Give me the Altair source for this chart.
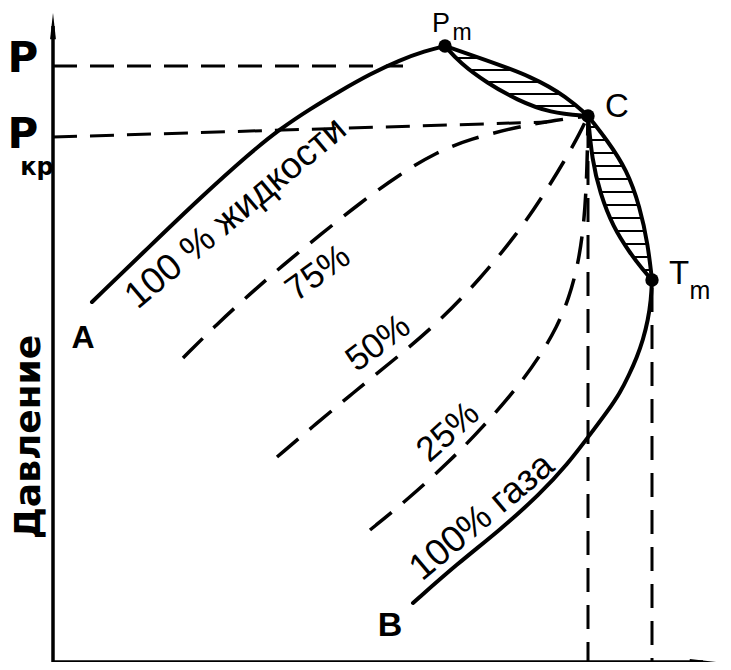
import altair as alt
import pandas as pd
import numpy as np

# Phase diagram (temperature T along x, pressure P along y), arbitrary units,
# origin at the corner of the axes.
liq_T = [39, 97, 147, 197, 227, 257, 287, 317, 347, 372, 392]     # A -> Pm (100% жидкости)
liq_P = [360, 416, 464, 509, 533, 553, 571, 588, 602, 611, 616]

upO_T = [392, 430, 480, 514, 535]                                  # Pm -> C, outer
upO_P = [616, 603, 585, 565, 546]
upI_T = [392, 407, 434, 464, 497, 535]                             # Pm -> C, inner
upI_P = [616, 599, 579, 562, 549, 546]

rtO_T = [535, 554, 574, 587, 595, 599]                             # C -> Tm, outer
rtO_P = [546, 522, 492, 455, 417, 382]
rtI_T = [535, 539, 547, 560, 577, 590, 599]                        # C -> Tm, inner
rtI_P = [546, 502, 469, 435, 409, 392, 382]

gas_T = [599, 598, 595, 590, 584, 576, 567, 554, 539, 514, 487, 447, 404, 360]   # Tm -> B (100% газа)
gas_P = [382, 362, 342, 322, 305, 287, 269, 250, 230, 197, 168, 132, 98, 59]

q75_T = [130, 164, 197, 230, 267, 307, 347, 384, 417, 464, 497, 535]
q75_P = [304, 338, 368, 397, 427, 459, 488, 510, 523, 535, 541, 546]
q50_T = [224, 264, 300, 337, 384, 427, 464, 490, 512, 527, 535]
q50_P = [205, 239, 269, 299, 338, 383, 428, 466, 502, 529, 546]
q25_T = [317, 354, 397, 430, 464, 487, 504, 516, 525, 531, 534, 535]
q25_P = [132, 162, 201, 235, 274, 306, 335, 364, 397, 437, 487, 546]

# reference lines
P_max = 596
T_Pmax_end = 350
Pkr_start, Pkr_end = 525, 540
T_Pkr_end = 494
T_C, P_C = 535, 546
T_Pm, P_Pm = 392, 616
T_Tm, P_Tm = 599, 382

# axes extents
T_axis_end, P_axis_end = 650, 636


def series(name, T, P):
    return pd.DataFrame({"T": T, "P": P, "i": range(len(T)), "s": name})


solid_df = pd.concat([
    series("liq", liq_T, liq_P),
    series("upO", upO_T, upO_P),
    series("upI", upI_T, upI_P),
    series("rtO", rtO_T, rtO_P),
    series("rtI", rtI_T, rtI_P),
    series("gas", gas_T, gas_P),
])
qual_df = pd.concat([
    series("q75", q75_T, q75_P),
    series("q50", q50_T, q50_P),
    series("q25", q25_T, q25_P),
])
ref_df = pd.concat([
    series("pmax", [0, T_Pmax_end], [P_max, P_max]),
    series("pkr", [0, T_Pkr_end], [Pkr_start, Pkr_end]),
    series("vC", [T_C, T_C], [P_C - 8, 0]),
    series("vTm", [T_Tm, T_Tm], [P_Tm - 8, 0]),
])


def hatch(iT, iP, oT, oP, levels):
    rows = []
    for p in levels:
        t1 = float(np.interp(p, iP[::-1], iT[::-1]))
        t2 = float(np.interp(p, oP[::-1], oT[::-1]))
        rows.append({"T": t1 + 1, "T2": t2 - 1, "P": p})
    return rows


hatch_df = pd.DataFrame(
    hatch(upI_T, upI_P, upO_T, upO_P, np.arange(556, 612, 12))
    + hatch(rtI_T, rtI_P, rtO_T, rtO_P, np.arange(392, 540, 13))
)

dots_df = pd.DataFrame({"T": [T_Pm, T_C, T_Tm], "P": [P_Pm, P_C, P_Tm]})

xs = alt.Scale(domain=[-45, 670], nice=False, zero=False)
ys = alt.Scale(domain=[0, 654], nice=False, zero=False)
X = lambda f="T": alt.X(f"{f}:Q", scale=xs, axis=None)
Y = lambda f="P": alt.Y(f"{f}:Q", scale=ys, axis=None)

solid = alt.Chart(solid_df).mark_line(strokeWidth=4, interpolate="basis", color="black",
                                      strokeCap="round").encode(
    x=X(), y=Y(), detail="s:N", order="i:Q")
qual = alt.Chart(qual_df).mark_line(strokeWidth=3.5, strokeDash=[28, 15],
                                    interpolate="basis", color="black",
                                    strokeCap="butt").encode(
    x=X(), y=Y(), detail="s:N", order="i:Q")
refl = alt.Chart(ref_df).mark_line(strokeWidth=3, strokeDash=[24, 13],
                                   color="black", strokeCap="butt").encode(
    x=X(), y=Y(), detail="s:N", order="i:Q")

hatches = alt.Chart(hatch_df).mark_rule(color="black", strokeWidth=2).encode(
    x=X(), x2="T2:Q", y=Y())

dots = alt.Chart(dots_df).mark_point(filled=True, size=180, color="black", opacity=1).encode(
    x=X(), y=Y())

yaxis = alt.Chart(pd.DataFrame({"T": [0], "P": [0], "P2": [P_axis_end]})).mark_rule(
    color="black", strokeWidth=3.5).encode(x=X(), y=Y(), y2="P2:Q")
xaxis = alt.Chart(pd.DataFrame({"T": [0], "T2": [T_axis_end], "P": [0]})).mark_rule(
    color="black", strokeWidth=3.5).encode(x=X(), x2="T2:Q", y=Y())
yarrow = alt.Chart(pd.DataFrame({"T": [0], "P": [P_axis_end]})).mark_point(
    shape="M -0.22 1 L 0 -1 L 0.22 1 Z", size=700, filled=True, color="black", opacity=1
).encode(x=X(), y=Y())
xarrow = alt.Chart(pd.DataFrame({"T": [T_axis_end], "P": [0]})).mark_point(
    shape="M -1 -0.22 L 1 0 L -1 0.22 Z", size=700, filled=True, color="black", opacity=1
).encode(x=X(), y=Y())

FONT = "Liberation Sans"


def label(T, P, text, size, angle=0, weight="normal", font=FONT):
    df = pd.DataFrame({"T": [T], "P": [P], "t": [text]})
    kw = dict(fontSize=size, fontWeight=weight, font=font, color="black",
              align="center", baseline="middle")
    if angle:
        kw["angle"] = angle
    return alt.Chart(df).mark_text(**kw).encode(x=X(), y=Y(), text="t:N")


labels = [
    label(-30, 603, "P", 42, weight="bold", font="DejaVu Sans"),
    label(-30, 527, "P", 42, weight="bold", font="DejaVu Sans"),
    label(-16, 494, "кр", 24, weight="bold", font="DejaVu Sans"),
    label(-24, 225, "Давление", 36, angle=270, weight="bold", font="DejaVu Sans"),
    label(30, 324, "A", 32, weight="bold"),
    label(337, 36, "B", 34, weight="bold"),
    label(388, 638, "P", 27),
    label(409, 629, "m", 23),
    label(564, 555, "C", 33),
    label(626, 388, "T", 33),
    label(647, 371, "m", 25),
    label(183, 449, "100 % жидкости", 37, angle=320),
    label(265, 389, "75%", 35, angle=324),
    label(325, 319, "50%", 35, angle=323),
    label(395, 230, "25%", 35, angle=318),
    label(429, 145, "100% газа", 37, angle=320),
]

chart = alt.layer(
    qual, refl, hatches, solid, dots, yaxis, xaxis, yarrow, xarrow, *labels
).properties(
    width=715, height=654,
    autosize=alt.AutoSizeParams(type="none"),
    padding=0,
).configure_view(stroke=None)

chart.save("out.html", embed_options={"renderer": "svg", "actions": False})
